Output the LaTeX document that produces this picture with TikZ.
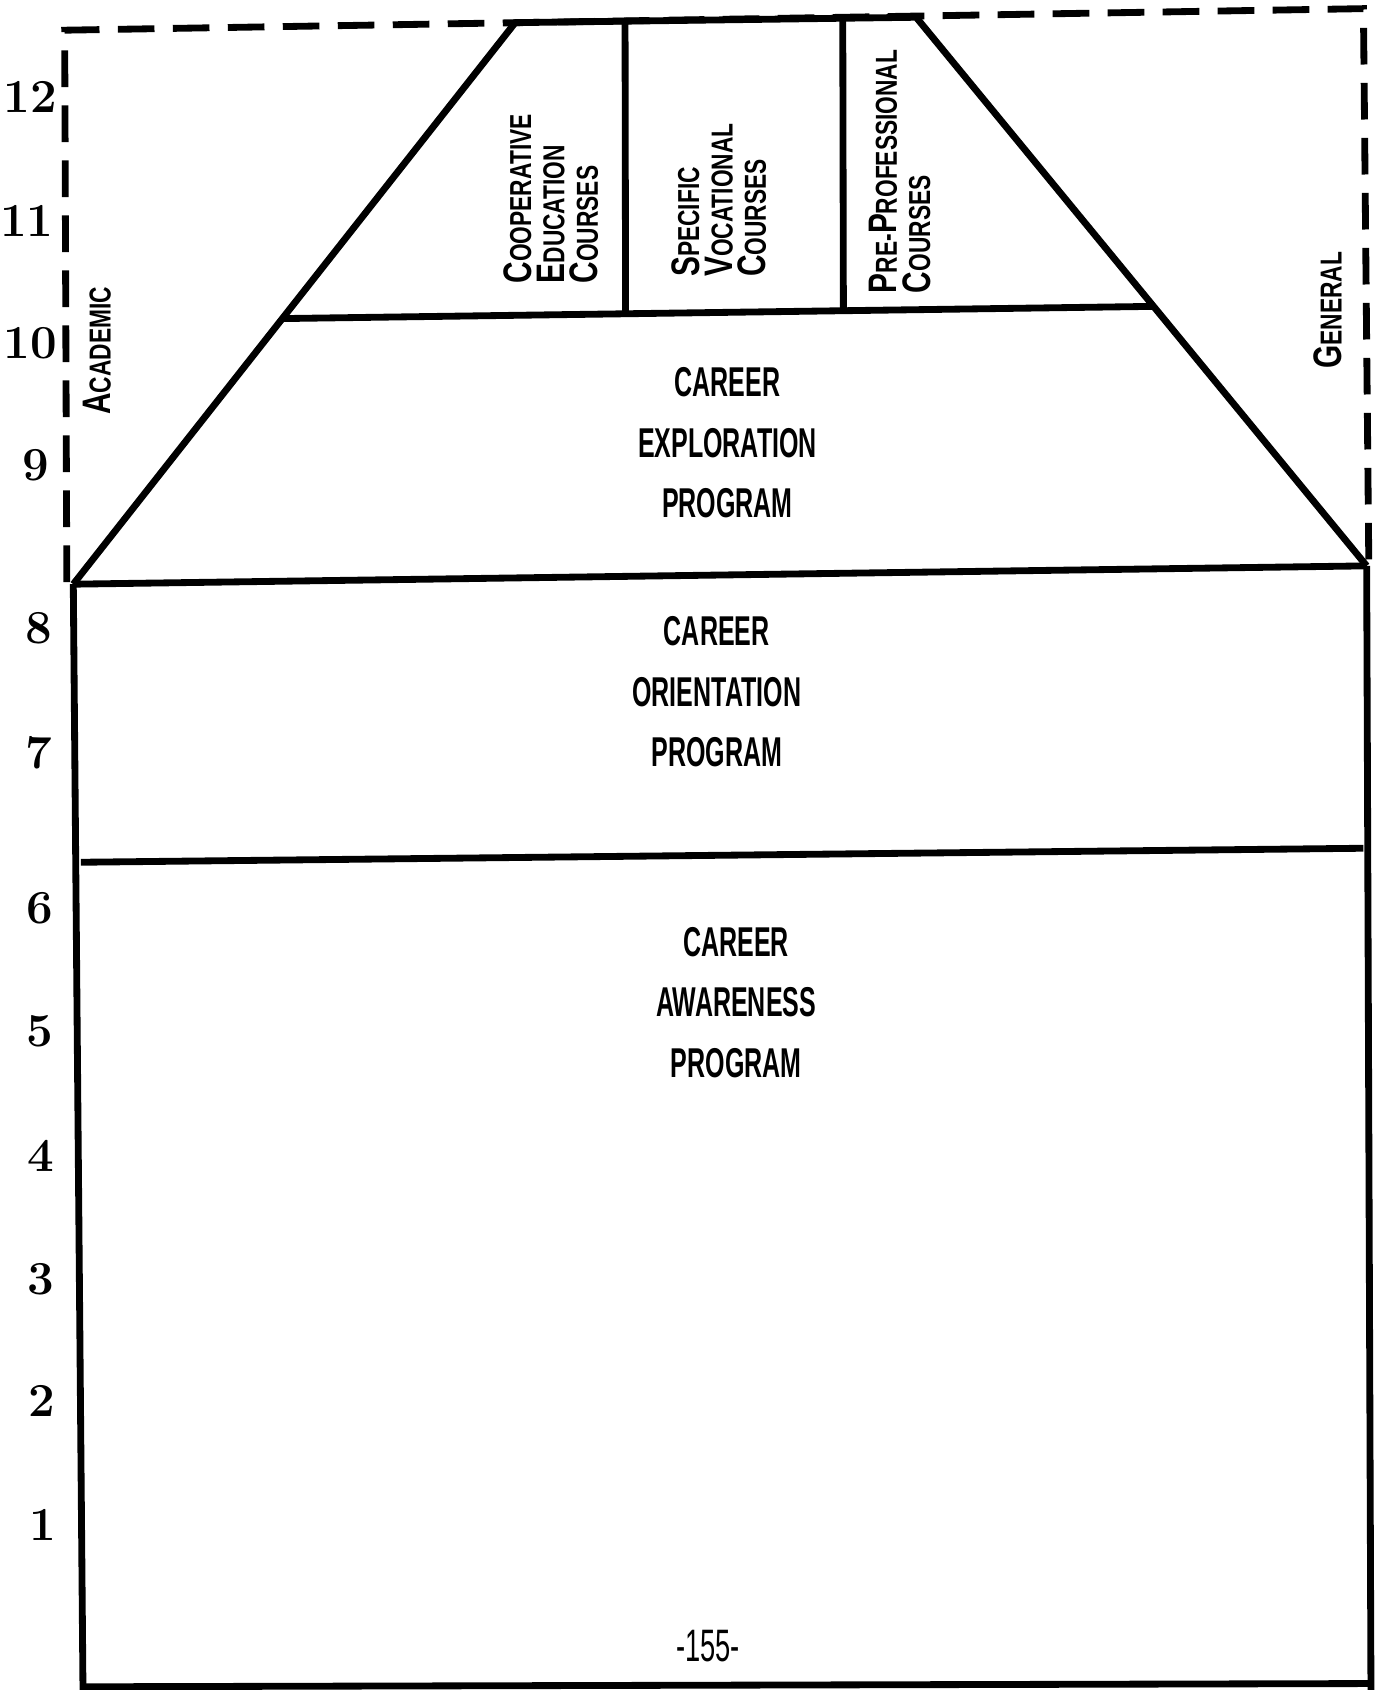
\documentclass[tikz,border=0pt]{standalone}
\usepackage{fontspec}
\usepackage{tikz}
\usetikzlibrary{calc}
\newfontfamily\typefont[FakeStretch=0.6]{Liberation Sans}
\newfontfamily\sctypefont[FakeStretch=0.75]{Liberation Sans}
\newcommand{\bigini}[2]{{\fontsize{10.5}{10.5}\selectfont #1}#2}

\begin{document}
\begin{tikzpicture}[x=0.01cm,y=-0.01cm,line width=1.8pt,
    frame/.style={dash pattern=on 0.34cm off 0.17cm},
    prog/.style={font=\typefont\bfseries\fontsize{11}{16}\selectfont,align=center},
    course/.style={rotate=90,anchor=west,inner sep=0pt,align=left,
      font=\sctypefont\bfseries\fontsize{8}{8.8}\selectfont},
    grade/.style={font=\bfseries\fontsize{12.5}{12.5}\selectfont}]
       \useasboundingbox (0,0) rectangle (1282,1568);
       % dashed outer frame
       \draw[frame] (62,540) -- (60,28) -- (1265,8) -- (1270,522);
       % trapezoid corners
       \coordinate (tl) at (478,21);
       \coordinate (tr) at (850,16);
       \coordinate (br) at (1268,525);
       \coordinate (bl) at (68,542);
       \coordinate (ml) at ($(tl)!0.527!(bl)$);
       \coordinate (mr) at ($(tr)!0.527!(br)$);
       \draw (bl) -- (tl) -- (tr) -- (br);
       \draw (ml) -- (mr);
       \draw ($(tl)!0.274!(tr)$) -- ($(ml)!0.394!(mr)$);
       \draw ($(tl)!0.817!(tr)$) -- ($(ml)!0.644!(mr)$);
       % lower boxes
       \draw (bl) -- (br);
       \draw (bl) -- (77,1568);
       \draw (br) -- (1272,1568);
       \draw (75,800) -- (1265,787);
       \draw (77,1565) -- (1272,1562);
       % grades
       \foreach \g/\gx/\gy in {12/28/90, 11/25/205, 10/28/318, 9/33/432,
           8/36/583, 7/36/698, 6/37/843, 5/37/957, 4/38/1072,
           3/38/1187, 2/39/1300, 1/40/1415}
         \node[grade] (g\g) at (\gx,\gy) {\g};
       % programs
       \node[prog] (explore) at (675,411) {CAREER\\EXPLORATION\\PROGRAM};
       \node[prog] (orient) at (665,642) {CAREER\\ORIENTATION\\PROGRAM};
       \node[prog] (aware) at (683,930) {CAREER\\AWARENESS\\PROGRAM};
       % courses
       \node[course] (coop) at (511,266) {\bigini{C}{OOPERATIVE}\\\bigini{E}{DUCATION}\\\bigini{C}{OURSES}};
       \node[course] (spec) at (667,260) {\bigini{S}{PECIFIC}\\\bigini{V}{OCATIONAL}\\\bigini{C}{OURSES}};
       \node[course] (prepro) at (835,275) {\bigini{P}{RE-}\bigini{P}{ROFESSIONAL}\\\bigini{C}{OURSES}};
       \node[course] (acad) at (90,388) {\bigini{A}{CADEMIC}};
       \node[course] (gen) at (1232,345) {\bigini{G}{ENERAL}};
       \node[font=\typefont\fontsize{12}{12}\selectfont] (page) at (657,1527) {-155-};
      \end{tikzpicture}
\end{document}
